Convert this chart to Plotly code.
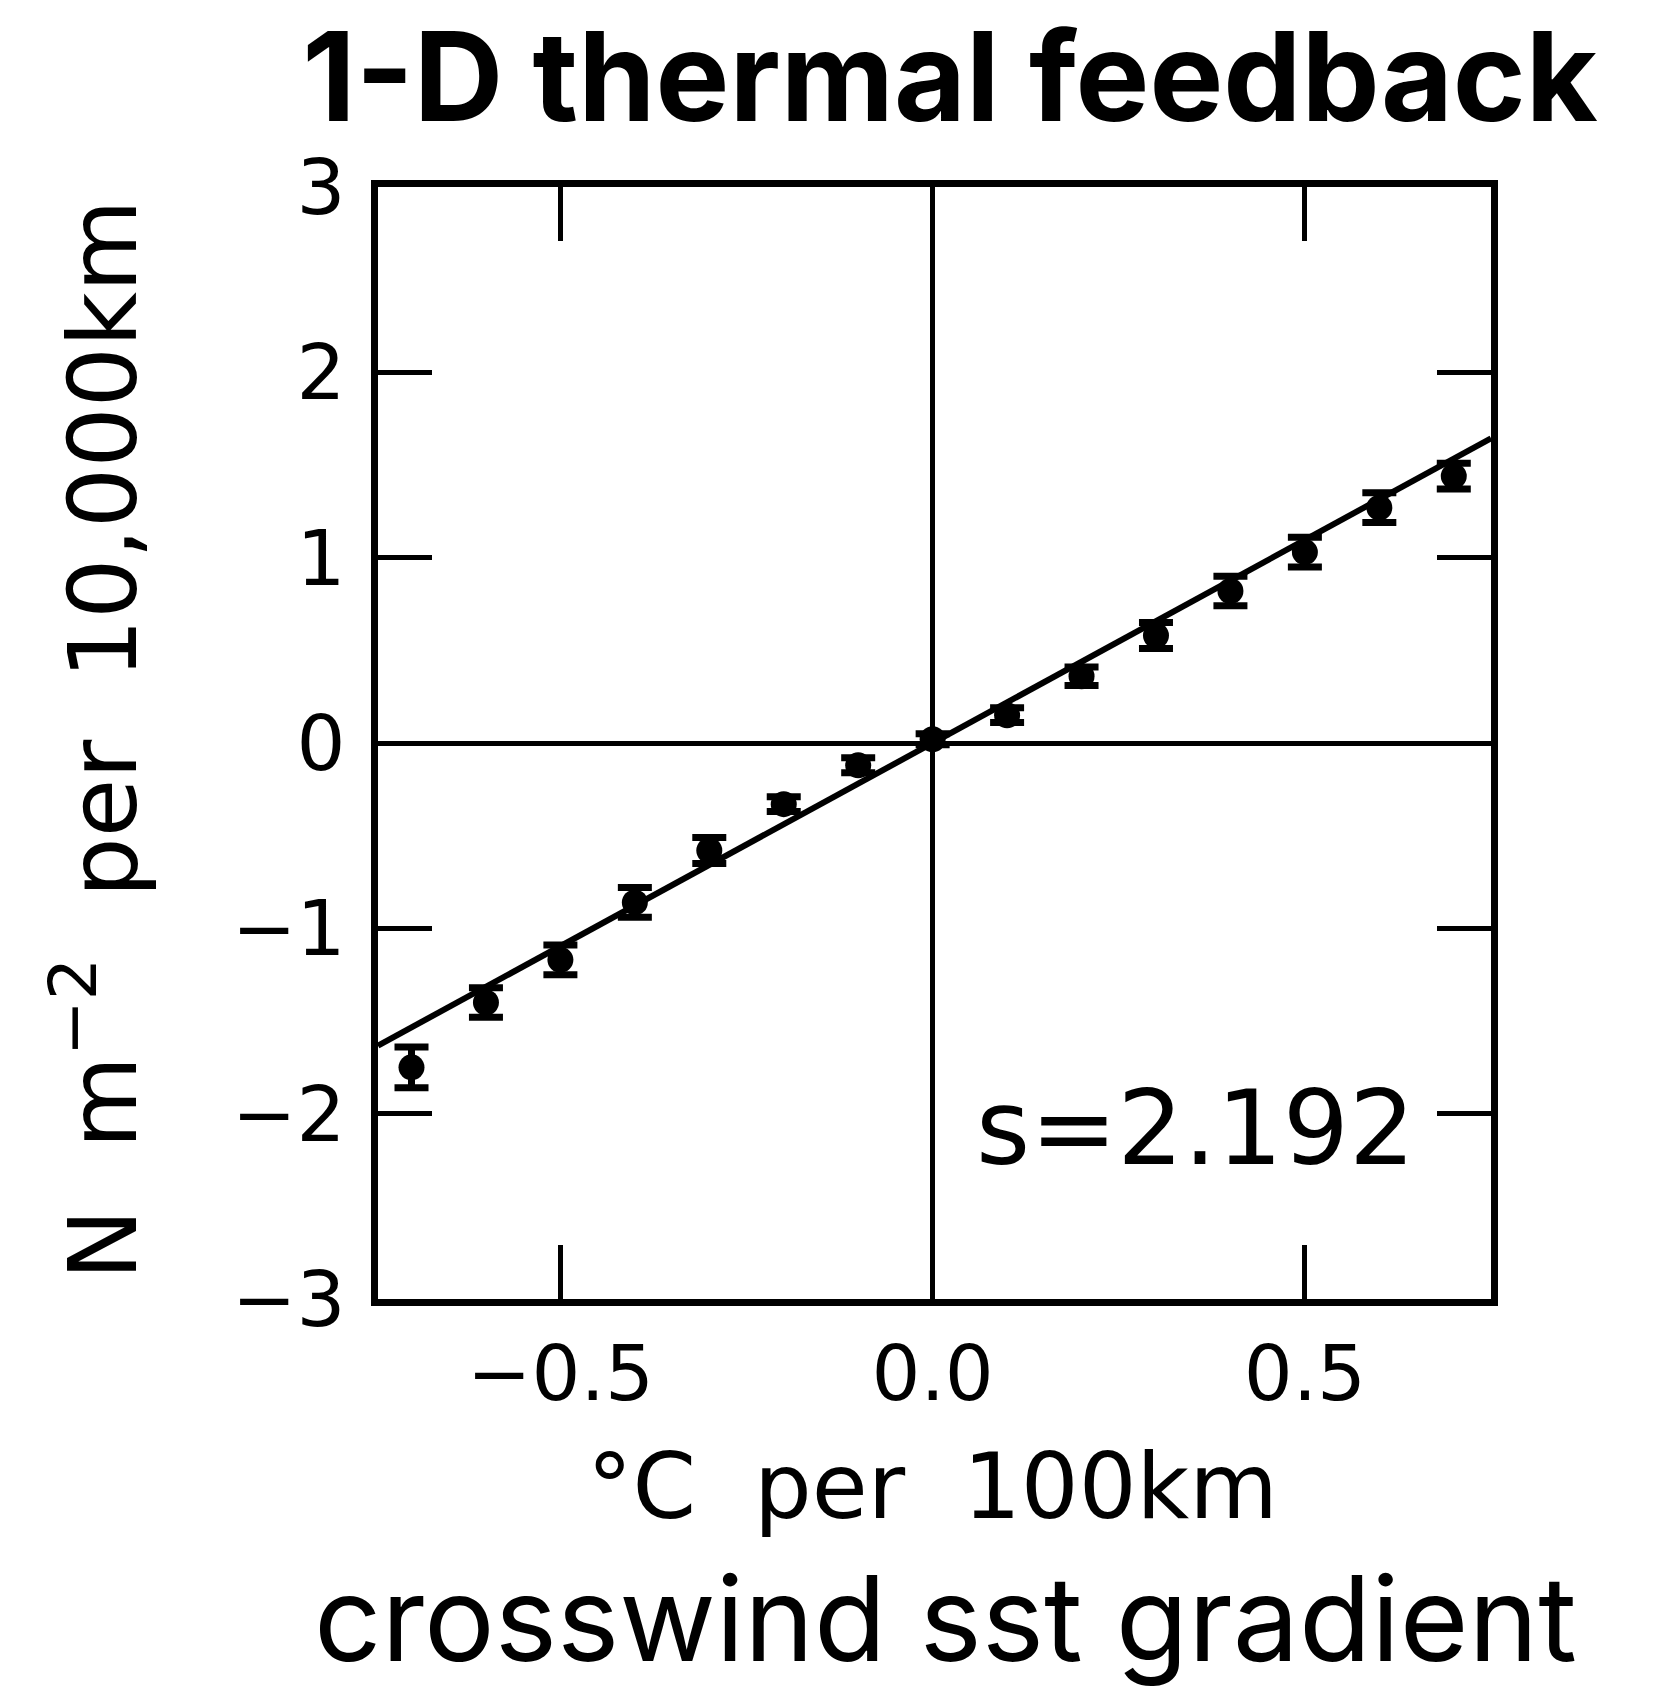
import plotly.graph_objects as go

# Data
x_vals = [-0.7, -0.6, -0.5, -0.4, -0.3, -0.2, -0.1, 0.0, 0.1, 0.2, 0.3, 0.4, 0.5, 0.6, 0.7]
y_vals = [-1.75, -1.40, -1.17, -0.86, -0.58, -0.33, -0.12, 0.02, 0.15, 0.36, 0.58, 0.82, 1.03, 1.27, 1.44]
y_err = [0.11, 0.08, 0.08, 0.08, 0.07, 0.04, 0.04, 0.03, 0.04, 0.05, 0.07, 0.08, 0.08, 0.08, 0.07]
slope = 2.192
x_range = [-0.745, 0.75]
y_range = [-3, 3]
x_ticks = [-0.5, 0.0, 0.5]
y_ticks = [-3, -2, -1, 0, 1, 2, 3]

W, H = 1665, 1694
ML, MR, MT, MB = 378, 174, 187, 395

fig = go.Figure()

# Fitted line
fig.add_trace(go.Scatter(
    x=x_range, y=[slope * v for v in x_range],
    mode="lines", line=dict(color="black", width=6),
    showlegend=False, hoverinfo="skip",
))

# Data with error bars
fig.add_trace(go.Scatter(
    x=x_vals, y=y_vals, mode="markers",
    marker=dict(color="black", size=26, symbol="circle"),
    error_y=dict(type="data", array=y_err, visible=True, color="black", thickness=7, width=17),
    showlegend=False,
))

axis_font = dict(family="DejaVu Sans", size=77, color="black")

common = dict(
    showline=True, linewidth=7, linecolor="black", mirror="ticks",
    ticks="inside", ticklen=54, tickwidth=5, tickcolor="black",
    showgrid=False, zeroline=True, zerolinewidth=4.5, zerolinecolor="black",
    tickfont=axis_font,
)
fig.update_xaxes(range=x_range, tickvals=x_ticks, tickformat=".1f", ticklabelstandoff=2, **common)
fig.update_yaxes(range=y_range, tickvals=y_ticks, ticklabelstandoff=10, **common)

pw = W - ML - MR
ph = H - MT - MB

def px_x(px):
    return (px - ML) / pw

def px_y(py):
    return (H - MB - py) / ph

annotations = [
    dict(text="°C  per  100km", x=px_x(932), y=px_y(1486), xref="paper", yref="paper",
         showarrow=False, xanchor="center", yanchor="middle",
         font=dict(family="DejaVu Sans", size=91, color="black")),
    dict(text="N  m<sup>−2</sup>  per  10,000km", x=px_x(96), y=px_y(740), xref="paper", yref="paper",
         showarrow=False, xanchor="center", yanchor="middle", textangle=-90,
         font=dict(family="DejaVu Sans", size=95, color="black")),
    dict(text="s=2.192", x=0.65, y=-2.08, xref="x", yref="y",
         showarrow=False, xanchor="right", yanchor="middle",
         font=dict(family="DejaVu Sans", size=104, color="black")),
    dict(text="crosswind sst gradient", x=px_x(945), y=px_y(1618), xref="paper", yref="paper",
         showarrow=False, xanchor="center", yanchor="middle",
         font=dict(family="Inter", size=118, color="black")),
]

fig.update_layout(
    width=W, height=H, autosize=False,
    margin=dict(l=ML, r=MR, t=MT, b=MB),
    paper_bgcolor="white", plot_bgcolor="white",
    title=dict(text="<b>1-D thermal feedback</b>", x=950 / W, xanchor="center",
               y=1 - 78 / H, yanchor="middle",
               font=dict(family="Inter", size=124, color="black")),
    annotations=annotations,
)

fig.write_html("out.html")
